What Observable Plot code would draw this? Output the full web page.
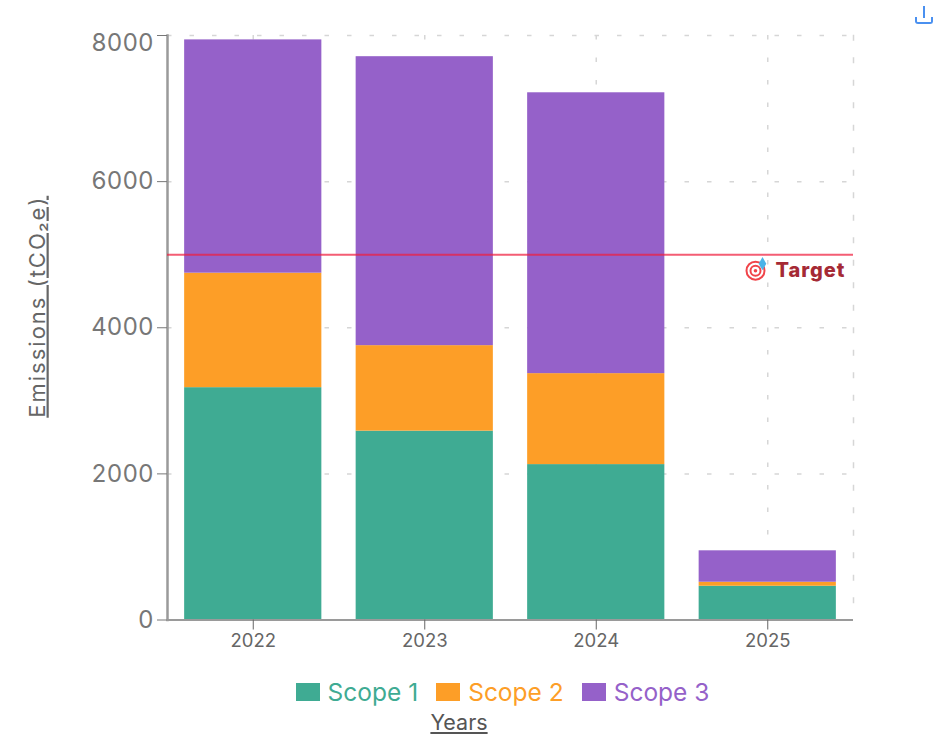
<!DOCTYPE html>
<html>
<head>
<meta charset="utf-8">
<script src="https://cdn.jsdelivr.net/npm/d3@7"></script>
<script src="https://cdn.jsdelivr.net/npm/@observablehq/plot@0.6"></script>
<style>
  html, body { margin: 0; padding: 0; background: #fff; overflow: hidden; }
  body { width: 935px; height: 734px; position: relative; font-family: Inter, "Open Sans", sans-serif; }
  #chart svg { display: block; }
  #legend { display: flex; justify-content: center; align-items: center; height: 26px; margin-top: 14px; padding-left: 70px; font-size: 24.5px; line-height: 26px; }
  #legend .item { display: flex; align-items: center; margin-right: 18px; }
  #legend .item:last-child { margin-right: 0; }
  #legend .swatch { width: 24px; height: 18px; margin-right: 8px; }
  #xtitle { text-align: center; padding-right: 17px; margin-top: 6px; font-size: 21.5px; line-height: 23px; color: #555; text-decoration: underline; }
  #download { position: absolute; left: 915px; top: 17px; width: 18px; height: 7px; border: 2px solid #4a90f0; border-top: none; border-radius: 0 0 3px 3px; box-sizing: border-box; }
  #download::before { content: ""; position: absolute; left: 6px; top: -11px; width: 2px; height: 12px; background: #4a90f0; }
</style>
</head>
<body>
<div id="chart"></div>
<div id="legend"></div>
<div id="xtitle"></div>
<div id="download" title="Download"></div>
<script>
const years = ["2022", "2023", "2024", "2025"];
const scopes = ["Scope 1", "Scope 2", "Scope 3"];
const scope1 = [3180, 2585, 2127, 462];
const scope2 = [1567, 1170, 1245, 55];
const scope3 = [3193, 3955, 3844, 430];
const colors = ["#3fab93", "#fd9e27", "#9561c9"];
const target = 5000;
const yTicks = [0, 2000, 4000, 6000, 8000];
const yLabel = "Emissions (tCO\u2082e)";
const xLabel = "Years";
const targetLabel = "Target";

const seriesValues = [scope1, scope2, scope3];
const rows = scopes.flatMap((s, i) => years.map((y, j) => ({year: y, scope: s, value: seriesValues[i][j]})));

const gridStyle = {stroke: "#d6d6d6", strokeOpacity: 1, strokeWidth: 1.5, strokeDasharray: "4.5,18"};
const font = "Inter, 'Open Sans', sans-serif";

const plot = Plot.plot({
  width: 935,
  height: 665,
  marginLeft: 167,
  marginRight: 82,
  marginTop: 35,
  marginBottom: 45.5,
  style: {fontFamily: font, background: "#fff"},
  x: {domain: years, paddingInner: 0.2, paddingOuter: 0.1, round: false, label: null},
  y: {domain: [0, 8000], label: null},
  color: {domain: scopes, range: colors},
  marks: [
    Plot.gridY(yTicks, gridStyle),
    Plot.gridX(years, gridStyle),
    Plot.frame({anchor: "right", ...gridStyle}),
    Plot.barY(rows, {x: "year", y: "value", fill: "scope", order: null}),
    Plot.frame({anchor: "left", stroke: "#9a9a9a", strokeWidth: 2.5}),
    Plot.ruleY([0], {stroke: "#9a9a9a", strokeWidth: 2}),
    Plot.ruleY([target], {stroke: "#f01f3f", strokeOpacity: 0.72, strokeWidth: 2}),
    Plot.axisY({ticks: yTicks, tickFormat: "d", tickSize: 10, tickPadding: 4, fontSize: 24, color: "#777", label: null}),
    Plot.axisX({tickSize: 10, tickPadding: 4, fontSize: 18.5, color: "#666", label: null}),
    Plot.text([yLabel], {frameAnchor: "left", textAnchor: "middle", dx: -130, dy: -21, rotate: -90, text: d => d, fontSize: 22, fill: "#666"}),
    Plot.dot([target], {y: d => d, frameAnchor: "right", dx: -98, dy: 16, r: 9, stroke: "#f0444a", strokeWidth: 2, fill: "#fff"}),
    Plot.dot([target], {y: d => d, frameAnchor: "right", dx: -98, dy: 16, r: 5, stroke: "#f0444a", strokeWidth: 2, fill: "#fff"}),
    Plot.dot([target], {y: d => d, frameAnchor: "right", dx: -98, dy: 16, r: 1.8, fill: "#f0444a"}),
    Plot.dot([target], {y: d => d, frameAnchor: "right", dx: -91, dy: 9, r: 4, symbol: "diamond", fill: "#4ab3e8"}),
    Plot.text([target], {y: d => d, frameAnchor: "right", dx: -8, dy: 16, text: () => targetLabel, fontSize: 20, fontWeight: 800, fill: "#a52a35", textAnchor: "end"})
  ]
});
const svg = d3.select(plot);
svg.selectAll("text").filter(function() { return this.textContent === yLabel; })
  .style("text-decoration", "underline").style("letter-spacing", "2px");
svg.selectAll("text").filter(function() { return this.textContent === targetLabel; })
  .style("letter-spacing", "1px");
svg.selectAll("text").filter(function() { return this.textContent === "8000"; })
  .attr("dy", "0.33em");
document.getElementById("chart").append(plot);

const legend = document.getElementById("legend");
scopes.forEach((s, i) => {
  const item = document.createElement("div");
  item.className = "item";
  item.style.color = colors[i];
  const sw = document.createElement("span");
  sw.className = "swatch";
  sw.style.background = colors[i];
  const t = document.createElement("span");
  t.textContent = s;
  item.append(sw, t);
  legend.append(item);
});
document.getElementById("xtitle").textContent = xLabel;
</script>
</body>
</html>
